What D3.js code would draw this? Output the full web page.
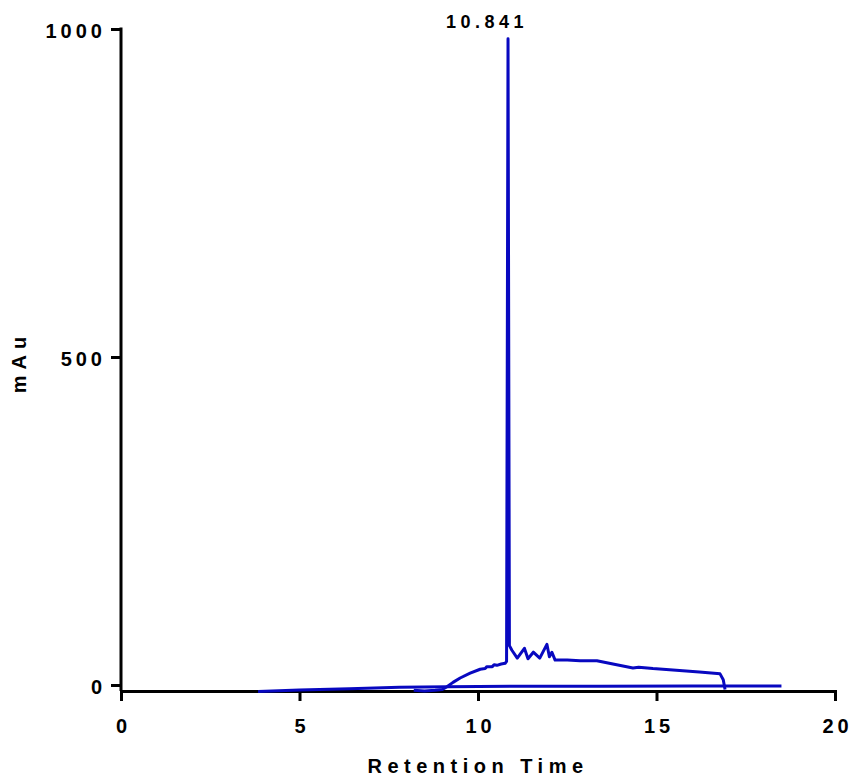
<!DOCTYPE html>
<html>
<head>
<meta charset="utf-8">
<script src="https://cdn.jsdelivr.net/npm/d3@7"></script>
<style>
  body { margin: 0; background: #fff; }
  text { font-family: "Liberation Sans", Arial, sans-serif; font-weight: bold; }
</style>
</head>
<body>
<div id="container"></div>
<script>
const blankTime = [3.84, 5.0, 6.4, 7.8, 9.13, 11.0, 13.4, 16.0, 18.5];
const blankMau  = [-10, -7.6, -5.6, -3.5, -2.6, -2.0, -2.0, -1.5, -1.5];

const sampleTime = [8.2, 8.5, 8.8, 9.0, 9.13, 9.3, 9.5, 9.78, 10.06, 10.2, 10.25, 10.4, 10.45, 10.53, 10.65, 10.76, 10.8, 10.841, 10.88, 10.95, 11.1, 11.3, 11.4, 11.55, 11.73, 11.93, 12.0, 12.07, 12.16, 12.5, 12.86, 13.33, 13.78, 14.34, 14.5, 14.9, 15.46, 16.2, 16.78, 16.87, 16.92];
const sampleMau  = [-8, -9, -8, -7, -2.6, 4, 10.7, 18, 24, 25, 28, 28, 31, 30, 32, 33, 36, 985, 60, 53, 41, 56, 40, 50, 41, 62, 43, 50, 38, 38, 37, 37, 32, 26, 27, 25, 23, 20, 17, 8, -7];

const peakTime = 10.841;
const peakLabel = '10.841';

const xTicks = [0, 5, 10, 15, 20];
const yTicks = [0, 500, 1000];

const WIDTH = 852;
const HEIGHT = 780;

const svg = d3.select('#container')
              .append('svg')
                .attr('width', WIDTH)
                .attr('height', HEIGHT);

const x = d3.scaleLinear().domain([0, 20]).range([121, 835]);
const y = d3.scaleLinear().domain([0, 1000]).range([685, 29]);
const xAxisY = 691;

// Eje X
const gx = svg.append('g')
              .attr('transform', `translate(0, ${xAxisY})`)
              .call(d3.axisBottom(x)
                      .tickValues(xTicks)
                      .tickSizeOuter(0)
                      .tickSize(10)
                      .tickPadding(18)
                      .tickFormat(d3.format('d')));
gx.select('.domain').attr('stroke-width', 3).attr('stroke', '#000');
gx.selectAll('.tick line').attr('stroke-width', 3).attr('stroke', '#000');
gx.selectAll('.tick text')
  .attr('font-size', 20)
  .attr('letter-spacing', 4)
  .attr('dx', 2)
  .attr('fill', '#000');

// Eje Y
const gy = svg.append('g')
              .attr('transform', `translate(${x(0)}, 0)`)
              .call(d3.axisLeft(y)
                      .tickValues(yTicks)
                      .tickSizeOuter(0)
                      .tickSize(10)
                      .tickPadding(5)
                      .tickFormat(d3.format('d')));
gy.select('.domain').remove();
gy.append('line')
  .attr('x1', 0).attr('x2', 0)
  .attr('y1', y(1000) - 1.5)
  .attr('y2', xAxisY)
  .attr('stroke', '#000')
  .attr('stroke-width', 3);
gy.selectAll('.tick line').attr('stroke-width', 3).attr('stroke', '#000');
gy.selectAll('.tick text')
  .attr('font-size', 20)
  .attr('letter-spacing', 4)
  .attr('dy', '0.4em')
  .attr('fill', '#000');

// Trazas
const line = d3.line()
               .x(d => x(d[0]))
               .y(d => y(d[1]));

svg.append('path')
   .datum(d3.zip(blankTime, blankMau))
   .attr('fill', 'none')
   .attr('stroke', '#0808c0')
   .attr('stroke-width', 3)
   .attr('d', line);

svg.append('path')
   .datum(d3.zip(sampleTime, sampleMau))
   .attr('fill', 'none')
   .attr('stroke', '#0808c0')
   .attr('stroke-width', 3)
   .attr('stroke-linejoin', 'round')
   .attr('d', line);

// Etiqueta del pico
svg.append('text')
   .attr('x', x(peakTime) - 21)
   .attr('y', 28)
   .attr('text-anchor', 'middle')
   .attr('font-size', 18)
   .attr('letter-spacing', 4.5)
   .text(peakLabel);

// Títulos de ejes
svg.append('text')
   .attr('x', (x.range()[0] + x.range()[1]) / 2)
   .attr('y', 773)
   .attr('text-anchor', 'middle')
   .attr('font-size', 20)
   .attr('letter-spacing', 5.5)
   .text('Retention Time');

svg.append('text')
   .attr('transform', `translate(26, ${(y(0) + y(1000)) / 2 + 5}) rotate(-90)`)
   .attr('text-anchor', 'middle')
   .attr('font-size', 20)
   .attr('letter-spacing', 6)
   .text('mAu');
</script>
</body>
</html>
